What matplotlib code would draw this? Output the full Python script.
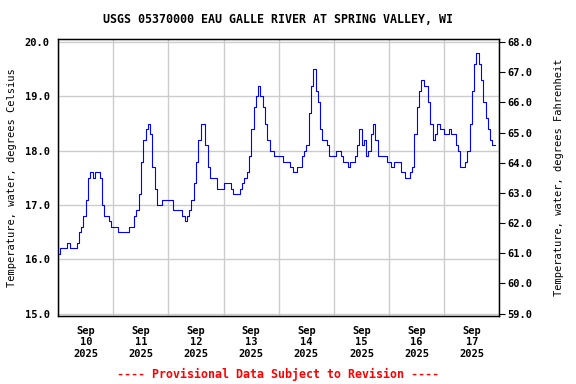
import numpy as np
import pandas as pd
import matplotlib
matplotlib.use("Agg")
import matplotlib.pyplot as plt
import matplotlib.dates as mdates
from matplotlib.ticker import FixedLocator, FormatStrFormatter

plt.rcParams["font.family"] = "DejaVu Sans Mono"
plt.rcParams["font.weight"] = "bold"

title = "USGS 05370000 EAU GALLE RIVER AT SPRING VALLEY, WI"
start = "2025-09-10 00:00"
day_labels = ["10", "11", "12", "13", "14", "15", "16", "17"]

# hourly water temperature, deg C
temp_c = [
    # Sep 10
    16.1, 16.2, 16.2, 16.2, 16.3, 16.2, 16.2, 16.2, 16.3, 16.5, 16.6, 16.8,
    17.1, 17.5, 17.6, 17.5, 17.6, 17.6, 17.5, 17.0, 16.8, 16.8, 16.7, 16.6,
    # Sep 11
    16.6, 16.6, 16.5, 16.5, 16.5, 16.5, 16.5, 16.6, 16.6, 16.8, 16.9, 17.2,
    17.8, 18.2, 18.4, 18.5, 18.3, 17.7, 17.3, 17.0, 17.0, 17.1, 17.1, 17.1,
    # Sep 12
    17.1, 17.1, 16.9, 16.9, 16.9, 16.9, 16.8, 16.7, 16.8, 16.9, 17.1, 17.4,
    17.8, 18.2, 18.5, 18.5, 18.1, 17.7, 17.5, 17.5, 17.5, 17.3, 17.3, 17.3,
    # Sep 13
    17.4, 17.4, 17.4, 17.3, 17.2, 17.2, 17.2, 17.3, 17.4, 17.5, 17.6, 17.9,
    18.4, 18.8, 19.0, 19.2, 19.0, 18.8, 18.5, 18.2, 18.0, 18.0, 17.9, 17.9,
    # Sep 14
    17.9, 17.9, 17.8, 17.8, 17.8, 17.7, 17.6, 17.6, 17.7, 17.7, 17.9, 18.0,
    18.1, 18.7, 19.2, 19.5, 19.1, 18.9, 18.4, 18.2, 18.2, 18.1, 17.9, 17.9,
    # Sep 15
    17.9, 18.0, 18.0, 17.9, 17.8, 17.8, 17.7, 17.8, 17.8, 17.9, 18.1, 18.4,
    18.1, 18.2, 17.9, 18.0, 18.3, 18.5, 18.2, 17.9, 17.9, 17.9, 17.9, 17.8,
    # Sep 16
    17.8, 17.7, 17.8, 17.8, 17.8, 17.6, 17.6, 17.5, 17.5, 17.6, 17.7, 18.3,
    18.8, 19.1, 19.3, 19.2, 19.2, 18.9, 18.5, 18.2, 18.3, 18.5, 18.4, 18.4,
    # Sep 17
    18.3, 18.3, 18.4, 18.3, 18.3, 18.1, 18.0, 17.7, 17.7, 17.8, 18.0, 18.5,
    19.1, 19.6, 19.8, 19.6, 19.3, 18.9, 18.6, 18.4, 18.2, 18.1, 18.1,
]

times = pd.date_range(start, periods=len(temp_c), freq="h")

fig = plt.figure(figsize=(5.76, 3.84), dpi=100)
ax = fig.add_axes([0.101, 0.177, 0.766, 0.721])

ax.plot(times, temp_c, color="#0000ff", linewidth=0.8, drawstyle="steps-post", zorder=3)

c_lo, c_hi = 14.955, 20.055
ax.set_ylim(c_lo, c_hi)
ax.set_xlim(pd.Timestamp("2025-09-10"), pd.Timestamp("2025-09-18"))

# grid at midnight, labels at noon
ax.xaxis.set_major_locator(mdates.DayLocator())
ax.xaxis.set_major_formatter(plt.NullFormatter())
ax.xaxis.set_minor_locator(mdates.HourLocator(byhour=[12]))
ax.xaxis.set_minor_formatter(plt.FixedFormatter([f"Sep\n{d}\n2025" for d in day_labels]))
ax.tick_params(axis="x", which="both", length=0, pad=7, labelsize=7.5)

ax.yaxis.set_major_locator(FixedLocator([15, 16, 17, 18, 19, 20]))
ax.yaxis.set_major_formatter(FormatStrFormatter("%.1f"))
ax.tick_params(axis="y", length=0, pad=6, labelsize=7.5)

ax.grid(True, which="major", color="#cccccc", linewidth=1.0)
ax.set_axisbelow(True)
for s in ax.spines.values():
    s.set_linewidth(1.0)

ax2 = ax.twinx()
ax2.set_ylim(c_lo * 1.8 + 32, c_hi * 1.8 + 32)
ax2.yaxis.set_major_locator(FixedLocator(np.arange(59, 69)))
ax2.yaxis.set_major_formatter(FormatStrFormatter("%.1f"))
ax2.tick_params(axis="y", length=4, pad=2, labelsize=7.5)

ax.set_ylabel("Temperature, water, degrees Celsius", fontsize=7.5, labelpad=6)
ax2.set_ylabel("Temperature, water, degrees Fahrenheit", fontsize=7.5, labelpad=15)

fig.text(0.483, 0.95, title, ha="center", va="center", fontsize=8.4)
fig.text(0.483, 0.024, "---- Provisional Data Subject to Revision ----",
         ha="center", va="center", fontsize=8.4, color="#ff0000")

fig.savefig("out.png", dpi=100)
